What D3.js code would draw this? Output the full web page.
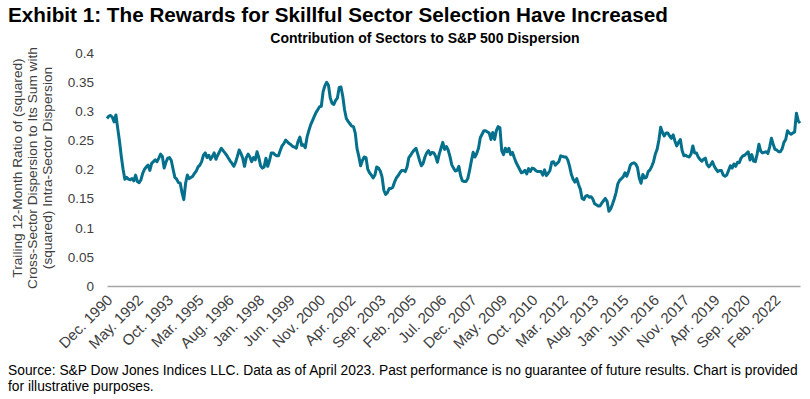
<!DOCTYPE html>
<html><head><meta charset="utf-8">
<script src="https://cdn.jsdelivr.net/npm/d3@7"></script>
<style>
body{margin:0;background:#fff;}
text{font-family:"Liberation Sans",Arial,sans-serif;}
</style></head>
<body><svg id="c" width="810" height="399"></svg>
<script>
// Monthly values, Dec. 1990 .. Apr. 2023
const values = [
0.287,0.291,0.292,0.289,0.281,0.293,0.270,0.248,0.222,0.200,0.183,0.186,
0.183,0.182,0.184,0.180,0.190,0.179,0.177,0.182,0.193,0.200,0.204,0.207,
0.198,0.210,0.213,0.216,0.213,0.219,0.226,0.222,0.202,0.212,0.219,0.220,
0.215,0.200,0.186,0.183,0.177,0.176,0.160,0.148,0.176,0.190,0.184,0.186,
0.188,0.193,0.197,0.204,0.207,0.213,0.224,0.228,0.220,0.224,0.217,0.222,
0.228,0.217,0.224,0.230,0.236,0.232,0.228,0.224,0.219,0.214,0.210,0.205,
0.212,0.222,0.233,0.227,0.219,0.205,0.220,0.226,0.221,0.213,0.220,0.216,
0.230,0.220,0.206,0.202,0.204,0.219,0.205,0.215,0.228,0.228,0.225,0.223,
0.223,0.232,0.240,0.244,0.250,0.247,0.244,0.242,0.239,0.238,0.236,0.248,
0.255,0.241,0.242,0.237,0.255,0.266,0.276,0.283,0.290,0.297,0.302,0.307,
0.308,0.333,0.343,0.349,0.344,0.322,0.313,0.311,0.318,0.322,0.340,0.341,
0.325,0.302,0.287,0.282,0.278,0.274,0.273,0.262,0.235,0.222,0.206,0.215,
0.221,0.220,0.200,0.194,0.190,0.185,0.190,0.204,0.202,0.197,0.187,0.164,
0.157,0.160,0.167,0.167,0.169,0.178,0.185,0.189,0.194,0.198,0.198,0.196,
0.204,0.220,0.224,0.229,0.233,0.236,0.226,0.215,0.206,0.210,0.221,0.228,
0.232,0.225,0.229,0.228,0.222,0.212,0.226,0.236,0.246,0.234,0.239,0.233,
0.222,0.208,0.202,0.197,0.198,0.205,0.189,0.180,0.179,0.179,0.184,0.198,
0.214,0.229,0.221,0.227,0.236,0.254,0.260,0.266,0.266,0.264,0.262,0.251,
0.263,0.251,0.266,0.273,0.271,0.232,0.225,0.236,0.230,0.236,0.225,0.229,
0.220,0.212,0.206,0.200,0.194,0.195,0.198,0.192,0.201,0.196,0.202,0.201,
0.198,0.196,0.196,0.196,0.190,0.199,0.189,0.193,0.198,0.212,0.213,0.207,
0.210,0.213,0.223,0.222,0.221,0.221,0.216,0.205,0.191,0.183,0.178,0.184,
0.174,0.166,0.150,0.148,0.154,0.155,0.152,0.153,0.149,0.141,0.139,0.137,
0.137,0.142,0.146,0.150,0.145,0.128,0.132,0.140,0.149,0.160,0.175,0.181,
0.184,0.187,0.194,0.188,0.196,0.207,0.210,0.211,0.209,0.203,0.185,0.176,
0.191,0.185,0.186,0.196,0.199,0.205,0.213,0.226,0.234,0.250,0.272,0.263,
0.257,0.262,0.262,0.257,0.253,0.259,0.248,0.240,0.246,0.251,0.232,0.223,
0.224,0.222,0.221,0.226,0.240,0.228,0.228,0.221,0.217,0.214,0.217,0.219,
0.208,0.204,0.208,0.213,0.205,0.200,0.196,0.198,0.198,0.190,0.188,0.190,
0.198,0.206,0.202,0.209,0.205,0.212,0.211,0.219,0.223,0.224,0.227,0.230,
0.216,0.225,0.214,0.213,0.226,0.243,0.231,0.228,0.229,0.230,0.227,0.238,
0.253,0.243,0.234,0.233,0.230,0.230,0.235,0.246,0.251,0.266,0.262,0.260,
0.262,0.264,0.296,0.283,0.279
];
const tickLabels = ["Dec. 1990","May. 1992","Oct. 1993","Mar. 1995","Aug. 1996","Jan. 1998",
"Jun. 1999","Nov. 2000","Apr. 2002","Sep. 2003","Feb. 2005","Jul. 2006","Dec. 2007",
"May. 2009","Oct. 2010","Mar. 2012","Aug. 2013","Jan. 2015","Jun. 2016","Nov. 2017",
"Apr. 2019","Sep. 2020","Feb. 2022"];
const tickStep = 17; // months between labels
const yTicks = [0,0.05,0.1,0.15,0.2,0.25,0.3,0.35,0.4];
const title = "Exhibit 1: The Rewards for Skillful Sector Selection Have Increased";
const subtitle = "Contribution of Sectors to S&P 500 Dispersion";
const yTitle = ["Trailing 12-Month Ratio of (squared)","Cross-Sector Dispersion to Its Sum with","(squared) Intra-Sector Dispersion"];
const footer = ["Source: S&P Dow Jones Indices LLC. Data as of April 2023. Past performance is no guarantee of future results. Chart is provided","for illustrative purposes."];

const svg = d3.select("#c");
const x = d3.scaleLinear().domain([0, values.length-1]).range([107, 800]);
const y = d3.scaleLinear().domain([0, 0.4]).range([286, 52.5]);

svg.append("text").attr("x",8).attr("y",22).attr("font-size",20.7).attr("font-weight","bold").attr("fill","#000").text(title);
svg.append("text").attr("x",425).attr("y",43).attr("text-anchor","middle").attr("font-size",14).attr("font-weight","bold").attr("fill","#000").text(subtitle);

// y axis labels
svg.append("g").selectAll("text").data(yTicks).join("text")
  .attr("x",94).attr("y",d=>y(d)+5).attr("text-anchor","end").attr("font-size",13.5).attr("fill","#404040")
  .text(d=>d3.format("")(+d.toFixed(2)));

// y title
const yt = svg.append("text").attr("transform","translate(0,168) rotate(-90)").attr("text-anchor","middle").attr("font-size",13.7).attr("fill","#404040");
yTitle.forEach((t,i)=>yt.append("tspan").attr("x",0).attr("y",22+i*15).text(t));

// x axis
const xAxis = d3.axisBottom(x).tickValues(tickLabels.map((d,i)=>i*tickStep)).tickSize(0).tickFormat((d,i)=>tickLabels[i]);
const gx = svg.append("g").attr("transform","translate(0,286)").call(xAxis);
gx.select(".domain").attr("stroke","#a6a6a6").attr("stroke-width",1.3);
gx.selectAll("text").attr("font-size",15).attr("fill","#404040").attr("font-family","Liberation Sans, Arial, sans-serif")
  .attr("text-anchor","end").attr("y",0).attr("dy",0)
  .attr("transform","translate(6,15) rotate(-45)");

// line
const line = d3.line().x((d,i)=>x(i)).y(d=>y(d));
svg.append("path").datum(values).attr("d",line).attr("fill","none").attr("stroke","#05708c").attr("stroke-width",3).attr("stroke-linejoin","round");

// footer
footer.forEach((t,i)=>svg.append("text").attr("x",8).attr("y",375+i*16).attr("font-size",13.8).attr("fill","#000").text(t));
</script></body></html>
